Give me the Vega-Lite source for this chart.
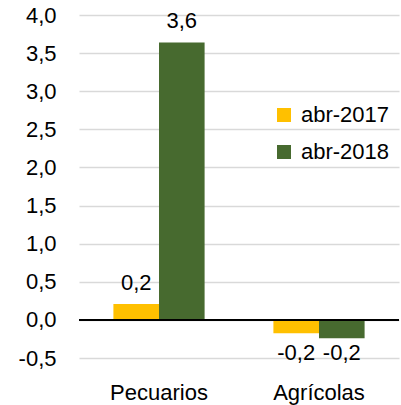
{
  "$schema": "https://vega.github.io/schema/vega-lite/v6.json",
  "width": 320,
  "height": 343,
  "autosize": "none",
  "padding": {"left": 79, "top": 15, "right": 2, "bottom": 47},
  "background": "white",
  "config": {
    "view": {"stroke": null},
    "font": "Liberation Sans",
    "axis": {"labelFont": "Liberation Sans", "labelFontSize": 22, "labelColor": "#000000"}
  },
  "data": {
    "values": [
      {"cat": "Pecuarios", "serie": "abr-2017", "v": 0.21, "lbl": "0,2"},
      {"cat": "Pecuarios", "serie": "abr-2018", "v": 3.64, "lbl": "3,6"},
      {"cat": "Agrícolas", "serie": "abr-2017", "v": -0.175, "lbl": "-0,2"},
      {"cat": "Agrícolas", "serie": "abr-2018", "v": -0.24, "lbl": "-0,2"}
    ]
  },
  "encoding": {
    "x": {
      "field": "cat", "type": "nominal", "sort": ["Pecuarios", "Agrícolas"],
      "scale": {"paddingInner": 0.43, "paddingOuter": 0.215},
      "axis": {"title": null, "labelAngle": 0, "ticks": false, "domain": false, "labelPadding": 24, "grid": false}
    },
    "xOffset": {"field": "serie", "type": "nominal", "sort": ["abr-2017", "abr-2018"]}
  },
  "layer": [
    {
      "mark": {"type": "bar"},
      "encoding": {
        "y": {
          "field": "v", "type": "quantitative",
          "scale": {"domain": [-0.5, 4.0], "nice": false, "zero": false},
          "axis": {
            "title": null, "tickCount": 10,
            "labelExpr": "replace(replace(format(datum.value, '.1f'), /[.]/, ','), '\u2212', '-')",
            "labelOverlap": false, "labelFlush": false,
            "ticks": false, "domain": false, "labelPadding": 23,
            "gridColor": "#D9D9D9", "gridWidth": 1.5
          }
        },
        "color": {
          "field": "serie", "type": "nominal",
          "scale": {"domain": ["abr-2017", "abr-2018"], "range": ["#FFC000", "#476A2F"]},
          "legend": {
            "title": null, "orient": "none", "legendX": 194, "legendY": 89,
            "symbolType": "square", "symbolSize": 196, "symbolStrokeWidth": 0,
            "labelFont": "Liberation Sans", "labelFontSize": 22, "labelColor": "#000000",
            "labelOffset": 6, "rowPadding": 15, "padding": 0
          }
        }
      }
    },
    {
      "mark": {"type": "rule", "color": "#000000", "strokeWidth": 1.5},
      "encoding": {"y": {"datum": 0}, "x": null, "xOffset": null}
    },
    {
      "transform": [{"filter": "datum.v >= 0"}],
      "mark": {"type": "text", "baseline": "bottom", "dy": -9, "fontSize": 22, "font": "Liberation Sans", "color": "#000000"},
      "encoding": {"y": {"field": "v", "type": "quantitative"}, "text": {"field": "lbl"}}
    },
    {
      "transform": [{"filter": "datum.v < 0"}],
      "mark": {"type": "text", "baseline": "middle", "fontSize": 22, "font": "Liberation Sans", "color": "#000000"},
      "encoding": {"y": {"datum": -0.44}, "text": {"field": "lbl"}}
    }
  ]
}
